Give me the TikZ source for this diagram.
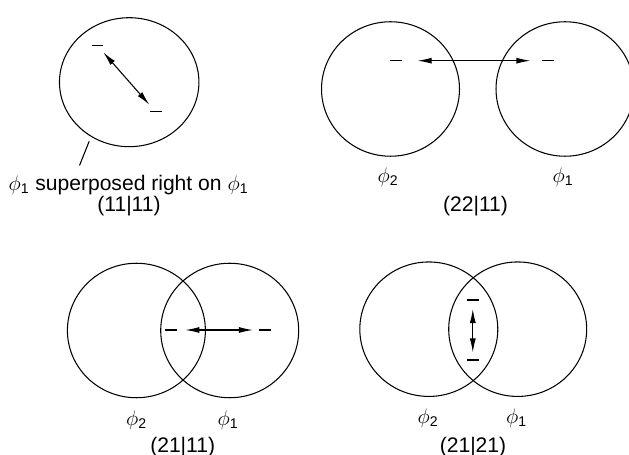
\documentclass[tikz,border=0pt]{standalone}
\usepackage{amsmath}
\usepackage{fontspec}
\setmainfont{Liberation Sans}
\usepackage{tikz}
\usetikzlibrary{arrows.meta,shapes.geometric}
\newcommand{\Ph}[1]{\ensuremath{\phi_{\text{#1}}}}

\begin{document}
\begin{tikzpicture}[x=0.02cm, y=-0.02cm,
  ring/.style={draw, ellipse, line width=0.6pt, inner sep=0pt,
    minimum width=2.76cm, minimum height=2.69cm},
  dashbar/.style={fill=black, rectangle, inner sep=0pt,
    minimum width=0.24cm, minimum height=0.7pt},
  dbl/.style={{Latex[length=8pt,width=3.4pt]}-{Latex[length=8pt,width=3.4pt]}, line width=0.6pt},
  lbl/.style={font=\fontsize{12}{14}\selectfont, inner sep=0pt}]
  \useasboundingbox (0,0) rectangle (629,455);

  % (11|11)
  \node[ring, minimum width=2.79cm, minimum height=2.58cm] (p1c) at (129.2,82.2) {};
  \node[dashbar] (p1t1) at (97.5,45.7) {};
  \node[dashbar] (p1t2) at (155.5,111.7) {};
  \draw[dbl, shorten <=0.15cm, shorten >=0.16cm] (p1t1) -- (p1t2);
  \coordinate (p1lead) at (79.5,165.5);
  \draw[line width=0.6pt, shorten <=2.8pt] (p1c.235) -- (p1lead);
  \node[lbl] (p1txt) at (128.5,185) {\Ph1 superposed right on \Ph1};
  \node[lbl] (p1key) at (129,206) {(11|11)};

  % (22|11)
  \node[ring] (p2l) at (390.5,89) {};
  \node[ring] (p2r) at (565,89) {};
  \node[dashbar] (p2t1) at (395.8,60.7) {};
  \node[dashbar] (p2t2) at (547.8,60.7) {};
  \draw[dbl, shorten <=0.31cm, shorten >=0.22cm] (p2t1) -- (p2t2);
  \node[lbl] (p2n2) at (388,177) {\Ph2};
  \node[lbl] (p2n1) at (563,177) {\Ph1};
  \node[lbl] (p2key) at (475.5,206) {(22|11)};

  % (21|11)
  \node[ring] (p3l) at (136.4,330.5) {};
  \node[ring] (p3r) at (229.7,330.5) {};
  \node[dashbar] (p3t1) at (170.5,330) {};
  \node[dashbar] (p3t2) at (265.3,330) {};
  \draw[dbl, shorten <=0.17cm, shorten >=0.12cm] (p3t1) -- (p3t2);
  \node[lbl] (p3n2) at (136.7,420) {\Ph2};
  \node[lbl] (p3n1) at (228,420) {\Ph1};
  \node[lbl] (p3key) at (182.7,446.7) {(21|11)};

  % (21|21)
  \node[ring] (p4l) at (428.8,329.2) {};
  \node[ring] (p4r) at (517.7,329.2) {};
  \node[dashbar] (p4t1) at (472.8,300) {};
  \node[dashbar] (p4t2) at (472.8,360) {};
  \draw[dbl, shorten <=0.16cm, shorten >=0.13cm] (p4t1) -- (p4t2);
  \node[lbl] (p4n2) at (428,418) {\Ph2};
  \node[lbl] (p4n1) at (516.7,418) {\Ph1};
  \node[lbl] (p4key) at (473,446.7) {(21|21)};
\end{tikzpicture}
\end{document}
